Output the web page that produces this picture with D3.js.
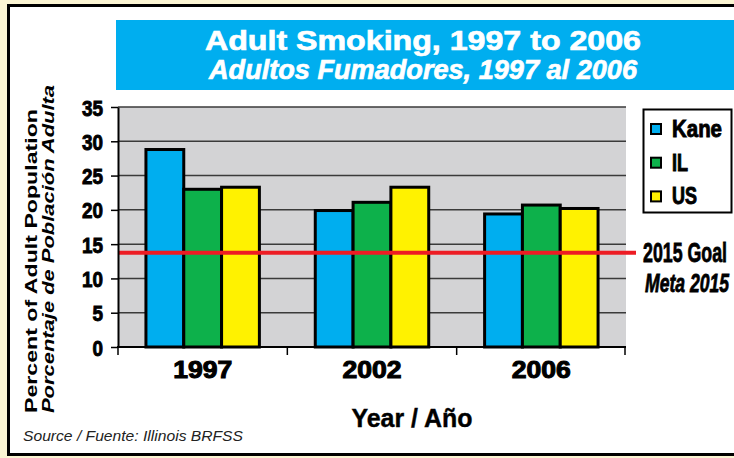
<!DOCTYPE html>
<html>
<head>
<meta charset="utf-8">
<script src="https://cdn.jsdelivr.net/npm/d3@7"></script>
<style>
  body { margin: 0; background: #fbf5d3; }
  svg { display: block; }
</style>
</head>
<body>
<div id="chart"></div>
<script>
// data
const years = ["1997", "2002", "2006"];
const series = ["Kane", "IL", "US"];
const kane = [28.8, 19.9, 19.4];
const il = [23.0, 21.1, 20.7];
const us = [23.3, 23.3, 20.2];
const goal = 13.75;
const yTicks = [0, 5, 10, 15, 20, 25, 30, 35];
const colors = ["#00aeef", "#0db14b", "#fff200"];

const values = [kane, il, us];

const width = 734, height = 458;
const plot = { left: 118, right: 626, top: 107, bottom: 347 };
const heavy = "Liberation Sans, Arial, sans-serif";

const svg = d3.select("#chart").append("svg")
  .attr("width", width)
  .attr("height", height);

// squeezed heavy text, stands in for a condensed black face
function heavyText(sel, x, y, str, size, len, opts) {
  opts = opts || {};
  const fill = opts.fill || "#000";
  return sel.append("text")
    .attr("x", x).attr("y", y)
    .attr("font-family", heavy)
    .attr("font-weight", "bold")
    .attr("font-style", opts.italic ? "italic" : "normal")
    .attr("font-size", size)
    .attr("text-anchor", opts.anchor || "start")
    .attr("fill", fill)
    .attr("stroke", fill)
    .attr("stroke-width", opts.sw == null ? 0.6 : opts.sw)
    .attr("textLength", len)
    .attr("lengthAdjust", "spacingAndGlyphs")
    .text(str);
}

// cream page + framed white panel
svg.append("rect").attr("width", width).attr("height", height).attr("fill", "#fbf5d3");
svg.append("rect")
  .attr("x", 8.5).attr("y", 5.5)
  .attr("width", 740).attr("height", 449)
  .attr("fill", "#fff").attr("stroke", "#000").attr("stroke-width", 3);

// title banner
svg.append("rect")
  .attr("x", 116).attr("y", 20)
  .attr("width", 630).attr("height", 70)
  .attr("fill", "#00aeef");

heavyText(svg, 423, 50, "Adult Smoking, 1997 to 2006", 28, 436, { fill: "#fff", anchor: "middle", sw: 0.7 });
heavyText(svg, 423, 79, "Adultos Fumadores, 1997 al 2006", 27, 428, { fill: "#fff", anchor: "middle", italic: true, sw: 0.7 });

// scales
const x0 = d3.scaleBand()
  .domain(years)
  .range([plot.left, plot.right])
  .paddingInner(0.33)
  .paddingOuter(0.165);

const x1 = d3.scaleBand()
  .domain(series)
  .range([0, x0.bandwidth()]);

const y = d3.scaleLinear()
  .domain([0, 35])
  .range([plot.bottom, plot.top]);

// gray plot area
svg.append("rect")
  .attr("x", plot.left).attr("y", plot.top)
  .attr("width", plot.right - plot.left)
  .attr("height", plot.bottom - plot.top)
  .attr("fill", "#d3d3d5");

// gridlines
svg.append("g")
  .selectAll("line")
  .data(yTicks.filter(d => d > 0))
  .enter().append("line")
  .attr("x1", plot.left).attr("x2", plot.right)
  .attr("y1", d => y(d)).attr("y2", d => y(d))
  .attr("stroke", "#3a3a3a")
  .attr("stroke-width", 1.5);

// bars
const rows = [];
years.forEach((yr, i) => {
  series.forEach((s, j) => {
    rows.push({ year: yr, series: s, value: values[j][i], color: colors[j] });
  });
});

svg.append("g")
  .selectAll("rect")
  .data(rows)
  .enter().append("rect")
  .attr("x", d => x0(d.year) + x1(d.series))
  .attr("y", d => y(d.value))
  .attr("width", x1.bandwidth())
  .attr("height", d => y(0) - y(d.value))
  .attr("fill", d => d.color)
  .attr("stroke", "#000")
  .attr("stroke-width", 3);

// goal line
svg.append("line")
  .attr("x1", plot.left).attr("x2", 636)
  .attr("y1", y(goal)).attr("y2", y(goal))
  .attr("stroke", "#ed1c24")
  .attr("stroke-width", 4);

// y axis
const yAxis = d3.axisLeft(y)
  .tickValues(yTicks)
  .tickSize(7)
  .tickSizeOuter(0)
  .tickFormat("");

const gy = svg.append("g")
  .attr("transform", `translate(${plot.left},0)`)
  .call(yAxis);
gy.select(".domain").attr("stroke-width", 2);
gy.selectAll(".tick line").attr("stroke-width", 1.5);
gy.selectAll(".tick").each(function(d) {
  const s = String(d);
  heavyText(d3.select(this), -15, 8, s, 22, s.length * 10.5, { anchor: "end", sw: 0.9 });
});

// x axis with ticks at band boundaries
const gx = svg.append("g")
  .attr("transform", `translate(0,${plot.bottom})`);
gx.append("line")
  .attr("x1", plot.left - 1).attr("x2", plot.right)
  .attr("stroke", "#000").attr("stroke-width", 2);
const step = x0.step();
const bounds = [plot.left].concat(years.map(d => x0(d) + x0.bandwidth() + step * x0.paddingInner() / 2));
bounds[bounds.length - 1] = plot.right - 1;
gx.selectAll(".bt")
  .data(bounds)
  .enter().append("line")
  .attr("x1", d => d).attr("x2", d => d)
  .attr("y1", 0).attr("y2", 8)
  .attr("stroke", "#000").attr("stroke-width", 1.5);
years.forEach(d => {
  heavyText(gx, x0(d) + x0.bandwidth() / 2, 31, d, 23, 59, { anchor: "middle", sw: 1 });
});

// axis titles
heavyText(svg, 412, 427, "Year / Año", 25, 121, { anchor: "middle", sw: 0.4 });

svg.append("text")
  .attr("transform", "translate(37,413) rotate(-90)")
  .attr("font-family", heavy)
  .attr("font-weight", "bold")
  .attr("font-size", 17)
  .attr("textLength", 304).attr("lengthAdjust", "spacingAndGlyphs")
  .text("Percent of Adult Population");

svg.append("text")
  .attr("transform", "translate(54,413) rotate(-90)")
  .attr("font-family", heavy)
  .attr("font-weight", "bold")
  .attr("font-style", "italic")
  .attr("font-size", 17)
  .attr("textLength", 328).attr("lengthAdjust", "spacingAndGlyphs")
  .text("Porcentaje de Población Adulta");

svg.append("text")
  .attr("x", 23).attr("y", 441)
  .attr("font-family", heavy)
  .attr("font-style", "italic")
  .attr("font-size", 15)
  .attr("fill", "#222")
  .attr("textLength", 220).attr("lengthAdjust", "spacingAndGlyphs")
  .text("Source / Fuente: Illinois BRFSS");

// goal label
heavyText(svg, 643, 262, "2015 Goal", 27, 84, { sw: 0.8 });
heavyText(svg, 645, 292, "Meta 2015", 26, 84, { italic: true, sw: 0.8 });

// legend
const legend = svg.append("g");
legend.append("rect")
  .attr("x", 643.5).attr("y", 109.5)
  .attr("width", 88).attr("height", 103)
  .attr("fill", "#fff").attr("stroke", "#000").attr("stroke-width", 2);
const legendLen = [50, 16, 25];
const li = legend.selectAll(".li")
  .data(series)
  .enter().append("g")
  .attr("transform", (d, i) => `translate(651,${129 + i * 33.7})`);
li.append("rect")
  .attr("x", 0).attr("y", -5)
  .attr("width", 10).attr("height", 10)
  .attr("fill", (d, i) => colors[i])
  .attr("stroke", "#000").attr("stroke-width", 2);
li.each(function(d, i) {
  heavyText(d3.select(this), 21, 8, d, 23, legendLen[i], { sw: 0.9 });
});
</script>
</body>
</html>
